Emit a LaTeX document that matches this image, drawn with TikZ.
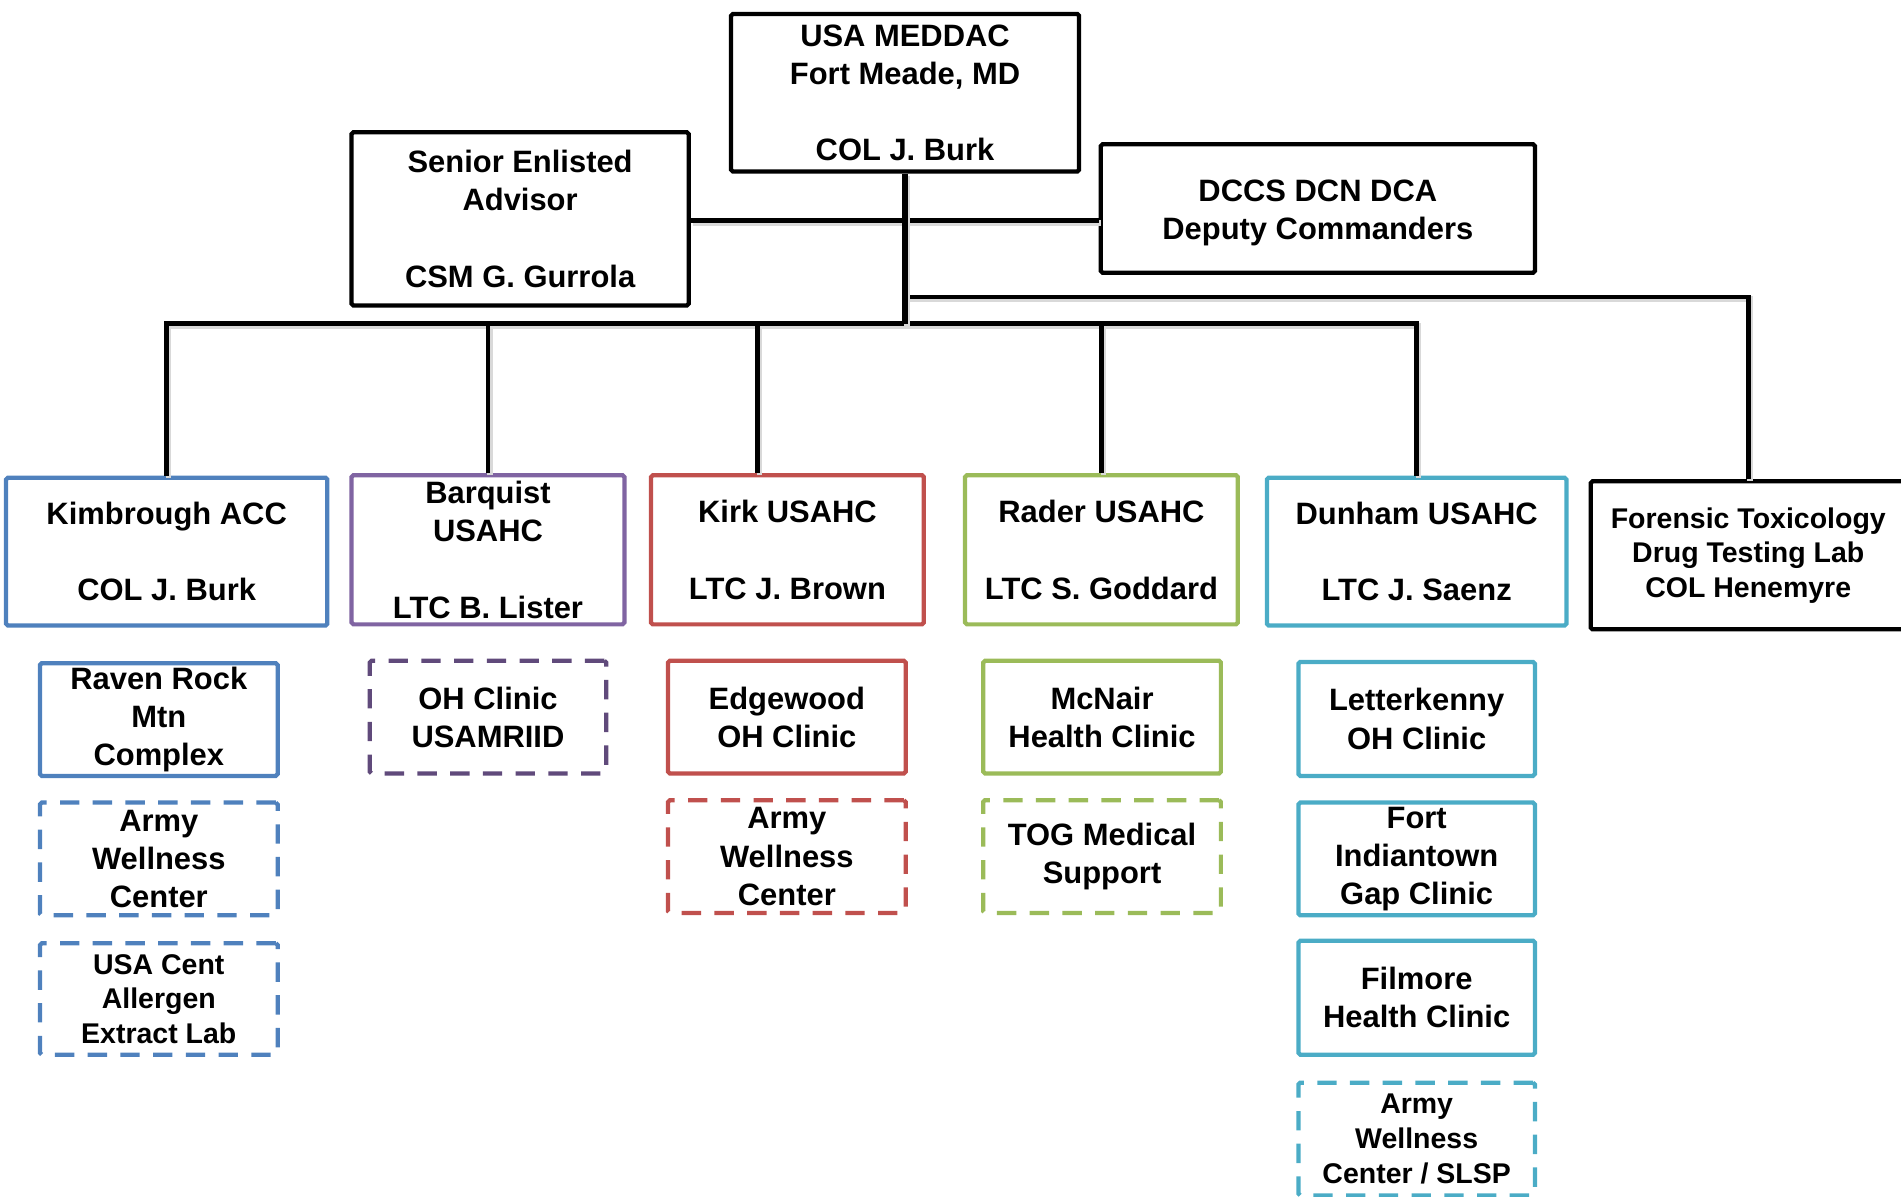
\documentclass[tikz,border=0pt]{standalone}
\usepackage{fontspec}
\setmainfont{Liberation Sans}
\definecolor{blueC}{HTML}{4F81BD}
\definecolor{purpleC}{HTML}{8064A2}
\definecolor{purpleD}{HTML}{604A7B}
\definecolor{redC}{HTML}{C0504D}
\definecolor{greenC}{HTML}{9BBB59}
\definecolor{cyanC}{HTML}{4BACC6}
\newcommand\mainf{\bfseries\fontsize{25.5}{31.5}\selectfont}
\newcommand\smallf{\bfseries\fontsize{23.5}{28.5}\selectfont}
\tikzset{
  box/.style={draw=#1, line width=3.5pt, rounded corners=1.5pt, inner sep=0pt,
    align=center, font=\mainf, text=black},
  box/.default=black,
  dsh/.style={dash pattern=on 16pt off 11pt},
  conn/.style={line width=3.8pt, draw=black,
    preaction={draw=black!15, line width=4.5pt, transform canvas={xshift=1.5pt,yshift=-1.8pt}}},
  trunk/.style={conn, line width=4.8pt}
}
\begin{document}
\begin{tikzpicture}[x=1pt,y=-1pt]
\useasboundingbox (0,0) rectangle (1568,986.5);

% top level
\node[box, minimum width=287pt, minimum height=130pt] (meddac) at (746.5,76.5)
  {USA MEDDAC\\Fort Meade, MD\\\mbox{}\\COL J. Burk};
\node[box, minimum width=278pt, minimum height=143pt] (senior) at (429,180.5)
  {Senior Enlisted\\Advisor\\\mbox{}\\CSM G. Gurrola};
\node[box, minimum width=358pt, minimum height=106pt] (dccs) at (1087,172)
  {\rule{0pt}{25pt}DCCS DCN DCA\\Deputy Commanders};

% second level
\node[box=blueC, minimum width=265pt, minimum height=122pt] (kim) at (137.5,455)
  {Kimbrough ACC\\\mbox{}\\COL J. Burk};
\node[box=purpleC, minimum width=225pt, minimum height=123pt] (barq) at (402.5,453.5)
  {Barquist\\USAHC\\\mbox{}\\LTC B. Lister};
\node[box=redC, minimum width=225pt, minimum height=123pt] (kirk) at (649.5,453.5)
  {Kirk USAHC\\\mbox{}\\LTC J. Brown};
\node[box=greenC, minimum width=225pt, minimum height=123pt] (rader) at (908.5,453.5)
  {Rader USAHC\\\mbox{}\\LTC S. Goddard};
\node[box=cyanC, minimum width=247pt, minimum height=122pt] (dunham) at (1168.5,455)
  {Dunham USAHC\\\mbox{}\\LTC J. Saenz};
\node[box, minimum width=260pt, minimum height=122pt, font=\smallf] (foren) at (1442,458)
  {Forensic Toxicology\\Drug Testing Lab\\COL Henemyre};

% third level
\node[box=blueC, minimum width=196pt, minimum height=93pt] (raven) at (131,593.5)
  {Raven Rock\\Mtn\\Complex};
\node[box=blueC, dsh, minimum width=196pt, minimum height=93pt] (awc1) at (131,708.5)
  {Army\\Wellness\\Center};
\node[box=blueC, dsh, minimum width=196pt, minimum height=92pt, font=\smallf] (cent) at (131,824)
  {USA Cent\\Allergen\\Extract Lab};
\node[box=purpleD, dsh, minimum width=195pt, minimum height=93pt] (ohc) at (402.5,591.5)
  {OH Clinic\\USAMRIID};
\node[box=redC, minimum width=196pt, minimum height=93pt] (edge) at (649,591.5)
  {Edgewood\\OH Clinic};
\node[box=redC, dsh, minimum width=196pt, minimum height=93pt] (awc2) at (649,706.5)
  {Army\\Wellness\\Center};
\node[box=greenC, minimum width=196pt, minimum height=93pt] (mcnair) at (909,591.5)
  {McNair\\Health Clinic};
\node[box=greenC, dsh, minimum width=196pt, minimum height=93pt] (tog) at (909,706.5)
  {TOG Medical\\Support};
\node[box=cyanC, minimum width=195pt, minimum height=94pt] (letter) at (1168.5,593)
  {Letterkenny\\OH Clinic};
\node[box=cyanC, minimum width=195pt, minimum height=93pt] (fig) at (1168.5,708.5)
  {Fort\\Indiantown\\Gap Clinic};
\node[box=cyanC, minimum width=195pt, minimum height=94pt] (fil) at (1168.5,823)
  {Filmore\\Health Clinic};
\node[box=cyanC, dsh, minimum width=195pt, minimum height=93pt, font=\smallf] (slsp) at (1168.5,939.5)
  {Army\\Wellness\\Center / SLSP};

% connectors
\coordinate (hs) at (746,182);
\coordinate (hf) at (746,245);
\coordinate (bar) at (746,267);
\draw[conn] (senior.east |- hs) -- (dccs.west |- hs);
\draw[conn] (hf) -| (foren.north);
\draw[conn] (kim.north) |- (bar) -| (dunham.north);
\draw[conn] (barq.north) -- (barq.north |- bar);
\draw[conn] ([xshift=-24.5pt]kirk.north) -- ([xshift=-24.5pt]kirk.north |- bar);
\draw[conn] (rader.north) -- (rader.north |- bar);
\draw[trunk] (meddac.south) -- (meddac.south |- bar);
\end{tikzpicture}
\end{document}
